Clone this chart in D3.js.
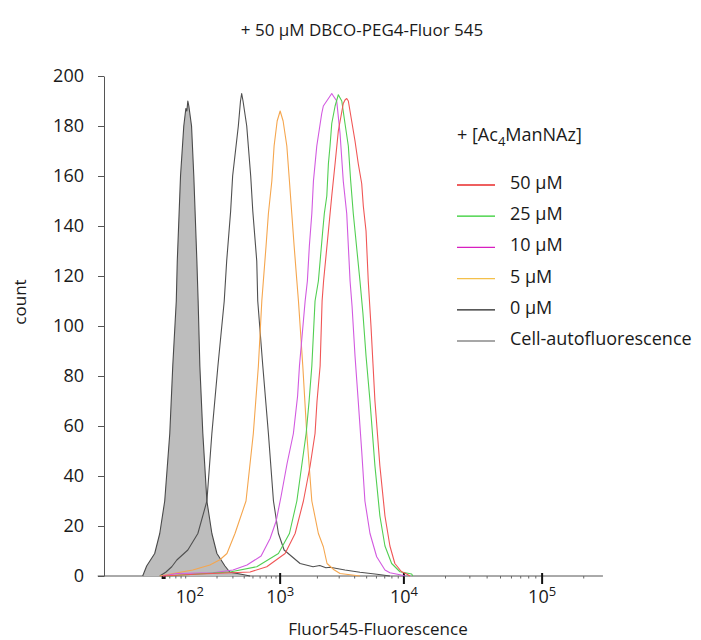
<!DOCTYPE html>
<html>
<head>
<meta charset="utf-8">
<script src="https://cdn.jsdelivr.net/npm/d3@7"></script>
<style>
    body { margin: 0; background: #fff; }
    svg text { font-family: "Open Sans", sans-serif; fill: #1a1a1a; }
</style>
</head>
<body>
<div id="chart"></div>
<script>
// Fluorescence given in decades (log10 of intensity), count per channel
const autoLog = [1.478, 1.522, 1.611, 1.667, 1.722, 1.778, 1.811, 1.85, 1.861, 1.897, 1.933, 1.956, 1.967, 1.978, 1.989, 2.019, 2.044, 2.078, 2.092, 2.111, 2.144, 2.189, 2.244, 2.3, 2.389, 2.444, 2.556, 2.667];
const autoCount = [0, 4, 9, 17, 30, 57, 84, 110, 126, 160, 180, 187, 186, 190, 188, 180, 160, 126, 110, 84, 57, 30, 17, 9, 4, 1.5, 0.8, 0];

const zeroLog = [1.667, 1.733, 1.8, 1.856, 1.978, 2.089, 2.189, 2.244, 2.311, 2.381, 2.408, 2.452, 2.474, 2.537, 2.561, 2.574, 2.589, 2.63, 2.674, 2.697, 2.741, 2.752, 2.808, 2.87, 2.926, 2.981, 3.032, 3.161, 3.266, 3.32, 3.37, 3.403, 3.524, 3.645, 3.782, 3.887];
const zeroCount = [0, 1.5, 3.7, 6.4, 10.4, 17, 30, 57, 84, 110, 126, 146, 160, 180, 190, 193, 190, 180, 160, 146, 126, 110, 84, 57, 30, 17, 10.4, 5, 3.7, 4.2, 3.3, 3.5, 2.4, 1.5, 0.7, 0];

const fiveLog = [1.667, 1.744, 2.033, 2.222, 2.333, 2.411, 2.5, 2.622, 2.703, 2.759, 2.797, 2.814, 2.844, 2.87, 2.908, 2.933, 2.967, 3.0, 3.024, 3.054, 3.075, 3.094, 3.113, 3.135, 3.148, 3.183, 3.215, 3.256, 3.309, 3.349, 3.379, 3.435, 3.484, 3.565, 3.645];
const fiveCount = [0, 0.5, 2.4, 4.4, 6.5, 9, 17, 30, 57, 84, 110, 118, 132, 145, 158, 172, 182, 186, 182, 172, 158, 145, 132, 118, 110, 84, 57, 30, 17, 11.7, 5, 2.5, 1, 0.5, 0];

const tenLog = [1.7, 1.856, 2.256, 2.478, 2.633, 2.789, 2.889, 2.956, 3.008, 3.056, 3.107, 3.141, 3.156, 3.202, 3.22, 3.236, 3.256, 3.269, 3.296, 3.336, 3.349, 3.39, 3.417, 3.43, 3.457, 3.484, 3.51, 3.538, 3.565, 3.581, 3.605, 3.631, 3.659, 3.685, 3.726, 3.78, 3.847, 3.887, 3.968, 4.007];
const tenCount = [0, 1, 1.3, 2.4, 4.4, 8, 15, 22, 32, 45, 57, 72, 84, 110, 118, 132, 145, 158, 172, 185, 188, 191, 193, 192, 190, 177, 158, 145, 118, 108, 88, 70, 50, 30, 17, 7.7, 2.4, 1.3, 0.5, 0];

const twentyFiveLog = [1.75, 2.444, 2.741, 2.981, 3.075, 3.135, 3.21, 3.234, 3.256, 3.282, 3.309, 3.344, 3.357, 3.377, 3.39, 3.403, 3.417, 3.444, 3.47, 3.498, 3.524, 3.551, 3.57, 3.591, 3.605, 3.645, 3.669, 3.694, 3.726, 3.766, 3.806, 3.847, 3.901, 3.968, 4.056, 4.065];
const twentyFiveCount = [0, 1.6, 3.7, 9, 17, 30, 57, 70, 84, 110, 118, 138, 145, 152, 165, 172, 181, 188, 192.5, 190, 181, 172, 158, 145, 138, 118, 105, 88, 70, 44, 24, 12, 5, 1.7, 0.8, 0];

const fiftyLog = [1.7, 2.111, 2.667, 2.852, 3.04, 3.121, 3.188, 3.242, 3.282, 3.298, 3.323, 3.339, 3.351, 3.39, 3.417, 3.444, 3.47, 3.492, 3.51, 3.524, 3.538, 3.551, 3.578, 3.605, 3.631, 3.659, 3.672, 3.694, 3.712, 3.734, 3.75, 3.766, 3.806, 3.847, 3.887, 3.927, 3.981, 4.02, 4.043];
const fiftyCount = [0, 0.8, 1.6, 3.7, 9, 17, 30, 44, 57, 70, 84, 110, 118, 138, 152, 165, 178, 184, 189, 190.4, 191, 190, 182, 174, 165, 157, 148, 138, 118, 100, 85, 70, 44, 24, 12, 5, 1.7, 0.8, 0];

const legendLabels = ["50 \u03BCM", "25 \u03BCM", "10 \u03BCM", "5 \u03BCM", "0 \u03BCM", "Cell-autofluorescence"];
const yTicks = [0, 20, 40, 60, 80, 100, 120, 140, 160, 180, 200];
const xDecades = [2, 3, 4, 5];
const xMajorTicks = [3, 4, 5];
const xExtent = [0.98, 5.44];
const originTick = 1.71;

// set the dimensions and margins of the graph
const margin = { top: 76, right: 98, bottom: 64, left: 104 },
    width = 701 - margin.left - margin.right,
    height = 640 - margin.top - margin.bottom;

// display is logicle-like: decades get wider towards the top of the range
const decadeFrac = [0.172, 0.353, 0.601, 0.878];

const svg = d3.select("#chart").append("svg")
    .attr("width", 701)
    .attr("height", 640);

const g = svg.append("g")
    .attr("transform", `translate(${margin.left},${margin.top})`);

const xScale = d3.scaleLinear(xDecades, decadeFrac.map(f => f * width));
const yScale = d3.scaleLinear([0, 200], [height, 0]);

const series = [
    { label: legendLabels[5], x: autoLog, y: autoCount, color: "#4a4a4a", legend: "#8a8a8a", fill: "#bdbdbd" },
    { label: legendLabels[4], x: zeroLog, y: zeroCount, color: "#505050", legend: "#222" },
    { label: legendLabels[3], x: fiveLog, y: fiveCount, color: "#f5a64e", legend: "#f4c04a" },
    { label: legendLabels[2], x: tenLog, y: tenCount, color: "#d25ae0", legend: "#d81fc0" },
    { label: legendLabels[1], x: twentyFiveLog, y: twentyFiveCount, color: "#52cf52", legend: "#2ccc2c" },
    { label: legendLabels[0], x: fiftyLog, y: fiftyCount, color: "#f05656", legend: "#e82a2a" }
];

// Y axis
const yAxis = g.append("g")
    .call(d3.axisLeft(yScale).tickValues(yTicks).tickSize(6).tickSizeOuter(0).tickPadding(14));
yAxis.select(".domain").attr("stroke", "#555");
yAxis.selectAll(".tick line").attr("stroke", "#555");
yAxis.selectAll("text").attr("font-size", 18).attr("fill", "#1a1a1a")
    .attr("font-family", "Open Sans, sans-serif");

// X axis line with logicle ticks
const xAxis = g.append("g").attr("transform", `translate(0,${height})`);
xAxis.append("line")
    .attr("x1", xScale(xExtent[0])).attr("x2", xScale(xExtent[1]))
    .attr("stroke", "#555");

let minor = [];
for (let k = 1; k <= 5; k++)
    for (let m = 2; m <= 9; m++) {
        const v = k + Math.log10(m);
        if (v > originTick && v < xExtent[1]) minor.push(v);
    }
xAxis.selectAll(".minor").data(minor).join("line")
    .attr("x1", d => xScale(d)).attr("x2", d => xScale(d))
    .attr("y1", 0).attr("y2", 2.5)
    .attr("stroke", "#666");

xAxis.selectAll(".major").data(xMajorTicks).join("line")
    .attr("x1", d => xScale(d)).attr("x2", d => xScale(d))
    .attr("y1", -3).attr("y2", 8)
    .attr("stroke", "#111").attr("stroke-width", 2);

xAxis.append("rect")
    .attr("x", xScale(originTick) - 2).attr("y", 0)
    .attr("width", 4).attr("height", 3)
    .attr("fill", "#111");

const xLabels = xAxis.selectAll(".xlabel").data(xDecades).join("text")
    .attr("x", d => xScale(d))
    .attr("y", 27)
    .attr("text-anchor", "middle")
    .attr("font-size", 18);
xLabels.append("tspan").text("10");
xLabels.append("tspan").attr("dy", -7).attr("font-size", 13).text(d => d);

// Histograms
const line = d3.line()
    .x(d => xScale(d[0]))
    .y(d => yScale(d[1]));
const area = d3.area()
    .x(d => xScale(d[0]))
    .y0(yScale(0))
    .y1(d => yScale(d[1]));

series.forEach(s => {
    const pts = s.x.map((v, i) => [v, s.y[i]]);
    if (s.fill) {
        g.append("path")
            .datum(pts)
            .attr("fill", s.fill)
            .attr("d", area);
    }
    g.append("path")
        .datum(pts)
        .attr("fill", "none")
        .attr("stroke", s.color)
        .attr("stroke-width", 1.1)
        .attr("stroke-linejoin", "round")
        .attr("d", line);
});

// Legend
const legend = g.append("g").attr("transform", `translate(${width - 146},0)`);
const header = legend.append("text")
    .attr("x", 0).attr("y", 65)
    .attr("font-size", 18);
header.append("tspan").text("+ [Ac");
header.append("tspan").attr("dy", 5).attr("font-size", 13).text("4");
header.append("tspan").attr("dy", -5).text("ManNAz]");

const legendOrder = series.slice().reverse();
legendOrder.forEach((s, i) => {
    const cy = 107 + i * 31.2;
    legend.append("line")
        .attr("x1", 0).attr("x2", 38)
        .attr("y1", cy + 2).attr("y2", cy + 2)
        .attr("stroke", s.legend)
        .attr("stroke-width", 1.3);
    legend.append("text")
        .attr("x", 53).attr("y", cy + 6)
        .attr("font-size", 18)
        .text(s.label);
});

// Titles
svg.append("text")
    .attr("x", 362).attr("y", 36)
    .attr("text-anchor", "middle")
    .attr("font-size", 17)
    .text("+ 50 \u03BCM DBCO-PEG4-Fluor 545");

svg.append("text")
    .attr("x", 378).attr("y", 635)
    .attr("text-anchor", "middle")
    .attr("font-size", 17)
    .text("Fluor545-Fluorescence");

svg.append("text")
    .attr("transform", "translate(26,302) rotate(-90)")
    .attr("text-anchor", "middle")
    .attr("font-size", 17)
    .text("count");
</script>
</body>
</html>
